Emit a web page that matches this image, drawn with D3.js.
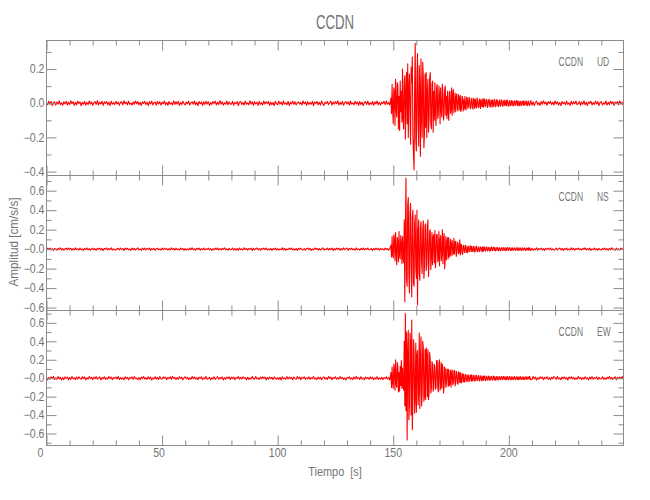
<!DOCTYPE html>
<html><head><meta charset="utf-8">
<script src="https://cdn.jsdelivr.net/npm/d3@7"></script>
<style>body{margin:0;background:#fff}text{font-family:"Liberation Sans",Arial,sans-serif;fill:#747474}</style>
</head><body>
<svg id="c" width="650" height="500"></svg>
<script>
// ---------------- data ----------------
const chartTitle = "CCDN";
const station = "CCDN";
const components = ["UD", "NS", "EW"];
const xLabel = "Tiempo  [s]";
const yLabel = "Amplitud [cm/s/s]";
const xDomain = [0, 249.6];
const xMajorTicks = [0, 50, 100, 150, 200];
const xMinorTicks = [10,20,30,40,60,70,80,90,110,120,130,140,160,170,180,190,210,220,230,240];

const udDomain = [-0.423, 0.367];
const nsDomain = [-0.63, 0.756];
const ewDomain = [-0.73, 0.734];
const udMajor = [0.2, 0.0, -0.2, -0.4];
const udMajorLabels = ["0.2", "0.0", "\u22120.2", "\u22120.4"];
const udMinor = [0.3, 0.1, -0.1, -0.3];
const nsMajor = [0.6, 0.4, 0.2, 0.0, -0.2, -0.4, -0.6];
const nsMajorLabels = ["0.6", "0.4", "0.2", "\u22120.0", "\u22120.2", "\u22120.4", "\u22120.6"];
const nsMinor = [0.7, 0.5, 0.3, 0.1, -0.1, -0.3, -0.5];
const ewMajor = [0.6, 0.4, 0.2, 0.0, -0.2, -0.4, -0.6];
const ewMajorLabels = ["0.6", "0.4", "0.2", "\u22120.0", "\u22120.2", "\u22120.4", "\u22120.6"];
const ewMinor = [0.7, 0.5, 0.3, 0.1, -0.1, -0.3, -0.5, -0.7];

// segments of the records: [start time s, sample step s]
const preSeg = [0, 0.5];      // pre-event noise, 0 - 148.5 s
const eventSeg = [149, 0.25]; // event, 149 - 208.75 s
const postSeg = [209, 0.5];   // coda noise, 209 - 249.5 s

// acceleration samples, in 0.001 cm/s/s
const udPre = [
4,-9,12,-6,10,-14,3,8,-11,7,-5,13,-8,2,-12,9,-4,11,-10,6,
-7,14,-3,9,-13,5,-9,12,-2,8,-15,6,-6,10,-11,4,-8,13,-5,7,
-12,3,9,-7,15,-10,6,-4,11,-13,8,-1,10,-9,5,-14,12,-6,3,-8,
11,-5,7,-12,4,9,-10,14,-3,6,-9,12,-7,1,-11,8,-6,13,-4,10,
-9,5,-13,8,-2,11,-8,6,-14,9,-5,12,-10,3,7,-12,10,-4,8,-11,
6,-3,13,-9,4,-12,10,-6,2,-10,14,-7,9,-5,11,-13,5,-8,12,-2,
-10,7,-4,12,-11,3,8,-6,13,-9,5,-14,10,-3,6,-12,9,-7,11,-5,
8,-13,4,-7,10,-2,12,-10,6,-8,15,-5,9,-11,3,-6,13,-9,7,-4,
-6,11,-12,5,-3,9,-14,7,10,-8,4,-11,12,-6,2,-9,14,-5,8,-12,
9,-4,6,-13,11,-7,3,-10,13,-5,8,-2,10,-12,6,-9,4,-14,11,-3,
-8,12,-5,7,-11,14,-6,2,-9,10,-13,5,-4,12,-7,9,-10,3,8,-6,
5,-10,13,-3,7,-12,9,-8,4,-6,11,-14,8,-2,10,-9,6,-11,13,-4,
-13,6,-2,10,-8,4,12,-11,7,-5,9,-3,14,-10,5,-7,11,-12,3,9,
-5,8,-11,13,-6,2,-9,11,-4,7,-12,10,-8,6,-14,4,9,-7,12,-10,
3,-7,10,-12,8,-4,13,-9,5,-11,6,-2,11,-8,14,-6,4,-10
];
const udEvent = [
30,-60,110,-40,-120,90,60,-130,140,-20,-80,120,100,-150,40,-160,130,-50,70,-110,
200,-90,-150,120,160,-210,60,180,-120,230,-200,90,170,-60,-240,210,120,270,-180,-300,
-390,100,350,-220,-280,160,290,-120,-250,220,80,-310,260,-90,-200,240,150,-260,-180,170,
-140,180,-200,60,140,-170,-90,150,180,-120,-150,110,130,-170,70,-100,120,-60,-130,90,
110,-90,-70,100,50,-120,90,-40,-80,110,60,-100,-60,80,100,-70,40,-90,70,-50,
-100,60,70,-60,-40,90,-70,50,80,-55,-30,60,-50,40,55,-35,-45,50,30,-40,
45,-50,-30,40,35,-45,20,-35,40,-25,-40,35,30,-30,-20,35,25,-28,-32,20,
30,-25,-35,28,20,-30,25,-18,-28,32,15,-22,-26,24,18,-30,22,-15,-20,27,
-24,18,26,-20,-15,22,20,-25,-12,19,23,-18,-22,15,17,-24,20,-12,-19,22,
16,-20,-14,21,18,-15,-20,12,19,-17,-11,20,14,-18,-16,13,18,-14,-10,17,
-15,18,12,-16,-18,11,15,-14,-12,17,10,-15,-16,12,14,-13,-9,16,12,-14,
14,-12,-15,10,11,-14,-12,13,9,-13,14,-8,-12,11,13,-10,-14,9,12,-11
];
const udPost = [
-13,15,
-11,8,-14,5,12,-9,3,-13,10,-6,14,-4,7,-12,9,-2,11,-8,6,-10,
13,-5,8,-11,4,-14,10,-3,6,-9,12,-7,2,-12,11,-6,9,-4,13,-8,
-3,10,-12,7,-6,14,-9,5,-13,8,-1,11,-10,4,-7,12,-5,9,-14,6,
8,-10,3,-6,13,-11,5,-8,12,-4,9,-13,7,-2,10,-9,14,-5,6,-12
];

const nsPre = [
-6,10,-3,12,-9,5,-13,7,2,-11,9,-4,13,-8,6,-12,3,10,-7,11,
-2,9,-12,6,-8,13,-5,4,-10,11,-7,3,-13,8,-4,12,-9,6,-11,2,
10,-7,4,-12,9,-3,11,-8,5,-14,7,-1,12,-10,6,-5,13,-9,3,-6,
-11,5,8,-9,12,-4,6,-13,10,-2,9,-7,3,-12,11,-6,8,-10,4,13,
-8,3,-11,10,-5,12,-9,7,-3,11,-13,6,-6,9,-12,4,10,-7,2,-10,
12,-6,9,-2,7,-11,5,-8,13,-4,8,-12,10,-6,3,-9,11,-3,6,-13,
7,-10,2,-8,11,-5,13,-7,4,-12,9,-3,10,-11,5,-6,12,-8,3,-4,
11,-9,6,-13,4,-7,10,-2,12,-10,5,-8,9,-4,13,-6,2,-11,8,-5,
-3,12,-8,5,-10,7,-12,11,-6,3,-9,13,-4,8,-11,6,-2,10,-13,9,
-7,4,11,-9,6,-12,8,-3,10,-5,12,-10,3,-7,9,-13,5,-4,11,-8,
6,-11,3,-5,13,-8,9,-12,2,-6,10,-3,12,-9,4,-10,7,-13,8,-2,
10,-4,-9,7,-12,5,11,-6,8,-13,3,-7,12,-2,9,-10,6,-11,4,13,
-9,2,-6,12,-10,8,-4,11,-13,5,-7,10,-3,9,-12,6,-8,13,-5,3,
11,-12,7,-3,9,-8,4,-11,13,-6,2,-10,8,-5,12,-9,6,-2,10,-7,
-4,9,-13,6,-8,11,-2,7,-12,10,-5,3,-9,12,-6,8,-11,4
];
const nsEvent = [
40,-80,130,-60,-90,150,100,-120,170,-40,-160,120,80,-130,180,-70,-100,140,60,-150,
130,-90,-140,300,-540,200,730,-300,-380,450,530,-250,-450,380,470,-200,-490,320,400,-350,
-380,260,350,-200,-300,400,-570,180,300,-250,-320,220,280,-150,-250,200,290,-300,-180,240,
260,-220,-150,210,300,-280,-120,180,200,-210,-90,170,-160,120,150,-140,190,-190,-80,150,
150,-130,-100,180,-170,90,140,-120,-60,200,-150,110,160,-200,-90,130,-110,70,120,-100,
120,-80,-50,100,-70,60,90,-60,-40,110,-50,70,80,-75,-45,70,60,-45,-30,95,
-60,50,45,-40,-55,35,40,-30,-35,40,30,-35,-38,25,30,-28,-22,35,28,-25,
30,-22,-25,28,22,-32,-18,25,30,-20,-27,18,24,-24,-15,22,20,-18,-26,26,
-20,17,22,-22,-14,20,23,-19,-12,18,15,-20,-17,18,22,-15,-13,20,17,-14,
16,-18,-11,15,19,-13,-16,14,12,-17,-10,15,13,-15,-12,16,14,-11,-15,13,
-14,12,16,-13,-10,15,12,-14,-15,11,13,-12,-9,14,12,-13,-11,10,15,-12,
12,-14,-10,13,11,-12,-13,9,14,-11,-8,12,10,-13,-12,11,9,-10,13,-11
];
const nsPost = [
13,-15,
9,-12,4,-7,13,-10,6,-3,11,-9,5,-13,8,-2,10,-6,12,-8,3,-11,
-5,10,-9,3,12,-7,8,-13,6,-4,11,-10,2,-8,13,-5,9,-12,7,-3,
12,-6,4,-11,9,-2,13,-9,5,-7,10,-12,3,-5,11,-8,6,-13,8,-4,
-10,7,-3,12,-8,5,-11,9,-6,13,-4,2,-12,10,-7,4,-9,11,-5,8
];

const ewPre = [
12,-18,7,-10,16,-5,19,-14,3,-12,17,-8,10,-19,6,-15,14,-3,11,-16,
8,-13,18,-6,4,-17,12,-9,15,-2,-11,16,-7,13,-18,5,-10,19,-4,9,
-15,11,-6,17,-12,3,14,-19,8,-7,16,-13,5,-9,18,-4,12,-16,7,-2,
13,-8,19,-14,6,-11,4,-17,15,-5,10,-18,9,-3,14,-12,17,-6,2,-15,
7,-16,11,-4,18,-10,5,-13,16,-8,12,-19,3,-7,15,-11,9,-14,17,-5,
-9,14,-2,12,-17,8,-6,15,-11,19,-4,10,-15,6,-12,16,-3,11,-18,4,
16,-7,9,-15,3,-12,18,-5,13,-10,7,-17,11,-2,14,-16,5,-8,19,-13,
-4,10,-18,6,-9,15,-13,2,17,-11,8,-6,14,-19,4,-10,12,-3,16,-14,
11,-5,13,-16,7,-2,18,-12,9,-8,15,-4,6,-17,10,-13,3,-9,19,-7,
-12,17,-8,4,-14,11,-6,16,-3,13,-18,7,-10,12,-5,9,-15,14,-1,-11,
6,-14,10,-19,15,-7,3,-12,17,-9,11,-4,8,-16,13,-2,-10,18,-6,12,
-17,9,-3,14,-11,5,-8,16,-13,7,-5,19,-10,2,-15,12,-7,10,-18,4,
15,-10,6,-13,18,-4,11,-16,8,-2,14,-12,5,-9,17,-6,10,-14,3,-19,
9,-3,16,-11,4,-15,12,-8,19,-5,7,-13,15,-10,2,-17,13,-4,8,-12,
14,-6,11,-18,5,-9,17,-14,3,-11,10,-16,7,-4,15,-12,8,-20
];
const ewEvent = [
60,-100,120,-50,-110,150,90,-130,200,-60,-100,170,120,-150,60,-140,130,-80,190,-110,
110,-90,-130,400,-300,700,-350,500,-670,300,520,-450,-300,490,380,-400,630,-560,-250,420,
300,-380,-200,380,-370,250,300,-290,-150,490,-330,200,450,-300,-180,400,330,-250,-200,310,
-230,330,250,-200,310,-230,-150,280,200,-160,-110,180,150,-140,-90,150,120,-120,-100,190,
190,-100,-150,160,200,-130,-90,170,-110,150,110,-160,-80,120,100,-100,-60,100,90,-90,
95,-80,-60,85,-95,70,90,-70,-50,80,85,-85,-40,75,60,-60,-65,70,55,-50,
60,-45,-50,50,40,-40,45,-38,-42,40,35,-30,-36,38,32,-35,-28,30,34,-34,
36,-28,-30,32,27,-33,-25,29,31,-27,-22,24,28,-30,-20,26,22,-29,-18,23,
-25,25,20,-22,-26,23,18,-19,-21,24,17,-23,-20,21,15,-17,-22,22,19,-20,
16,-21,-19,19,14,-18,-20,20,13,-16,-14,18,17,-16,-11,19,15,-13,-17,16,
-15,18,14,-19,-12,17,16,-14,-18,15,11,-16,-13,17,14,-12,-16,13,15,-15,
14,-16,-12,15,17,-13,-15,12,10,-16,14,-11,-14,13,16,-12,-10,15,12,-14
];
const ewPost = [
20,-16,
-14,18,-7,12,-19,5,-11,16,-3,13,-17,9,-6,15,-12,4,-18,10,-8,17,
6,-13,19,-9,3,-16,11,-5,14,-10,8,-19,12,-2,16,-7,10,-15,5,-12,
18,-4,9,-14,7,-11,15,-6,3,-18,13,-8,17,-12,6,-3,14,-16,10,-9,
-7,16,-12,4,-15,11,-5,19,-10,8,-13,2,15,-17,9,-6,12,-4,18,-11
];

// ---------------- drawing ----------------
const panels = [
  {comp: components[0], domain: udDomain, segs: [udPre, udEvent, udPost], major: udMajor, labels: udMajorLabels, minor: udMinor},
  {comp: components[1], domain: nsDomain, segs: [nsPre, nsEvent, nsPost], major: nsMajor, labels: nsMajorLabels, minor: nsMinor},
  {comp: components[2], domain: ewDomain, segs: [ewPre, ewEvent, ewPost], major: ewMajor, labels: ewMajorLabels, minor: ewMinor}
];
const segDefs = [preSeg, eventSeg, postSeg];

const svg = d3.select("#c");
svg.append("rect").attr("width", 650).attr("height", 500).attr("fill", "#fff");
const left = 46.5, right = 623.5, top0 = 40.5, panelH = 135;
const axisColor = "#8c8c8c";
const x = d3.scaleLinear().domain(xDomain).range([left, right]);

function styleAxis(g) {
  g.select(".domain").remove();
  g.selectAll("line").attr("stroke", axisColor).attr("stroke-width", 1);
  g.selectAll("text").remove();
}

panels.forEach((p, i) => {
  const y0 = top0 + i * panelH, y1 = y0 + panelH;
  const y = d3.scaleLinear().domain(p.domain).range([y1, y0]);
  const g = svg.append("g");

  const clipId = "clip" + i;
  svg.append("clipPath").attr("id", clipId)
    .append("rect").attr("x", left).attr("y", y0).attr("width", right - left).attr("height", panelH);

  const pts = [];
  p.segs.forEach((arr, s) => {
    const [t0, dt] = segDefs[s];
    arr.forEach((v, k) => pts.push([t0 + k * dt, v / 1000]));
  });
  g.append("path")
    .attr("clip-path", `url(#${clipId})`)
    .attr("d", d3.line().x(d => x(d[0])).y(d => y(d[1]))(pts))
    .attr("fill", "none").attr("stroke", "#ff0000").attr("stroke-width", 1.1)
    .attr("stroke-linejoin", "round");

  // frame
  g.append("rect").attr("x", left).attr("y", y0).attr("width", right - left).attr("height", panelH)
    .attr("fill", "none").attr("stroke", axisColor).attr("stroke-width", 1);

  // y ticks (inward) on left and right
  g.append("g").attr("transform", `translate(${left},0)`)
    .call(d3.axisLeft(y).tickValues(p.major).tickSizeInner(-10).tickSizeOuter(0)).call(styleAxis);
  g.append("g").attr("transform", `translate(${left},0)`)
    .call(d3.axisLeft(y).tickValues(p.minor).tickSizeInner(-5).tickSizeOuter(0)).call(styleAxis);
  g.append("g").attr("transform", `translate(${right},0)`)
    .call(d3.axisRight(y).tickValues(p.major).tickSizeInner(-10).tickSizeOuter(0)).call(styleAxis);
  g.append("g").attr("transform", `translate(${right},0)`)
    .call(d3.axisRight(y).tickValues(p.minor).tickSizeInner(-5).tickSizeOuter(0)).call(styleAxis);
  // x ticks (inward) on top and bottom
  g.append("g").attr("transform", `translate(0,${y0})`)
    .call(d3.axisTop(x).tickValues(xMajorTicks).tickSizeInner(-10).tickSizeOuter(0)).call(styleAxis);
  g.append("g").attr("transform", `translate(0,${y0})`)
    .call(d3.axisTop(x).tickValues(xMinorTicks).tickSizeInner(-5).tickSizeOuter(0)).call(styleAxis);
  g.append("g").attr("transform", `translate(0,${y1})`)
    .call(d3.axisBottom(x).tickValues(xMajorTicks).tickSizeInner(-10).tickSizeOuter(0)).call(styleAxis);
  g.append("g").attr("transform", `translate(0,${y1})`)
    .call(d3.axisBottom(x).tickValues(xMinorTicks).tickSizeInner(-5).tickSizeOuter(0)).call(styleAxis);

  // y tick labels
  p.major.forEach((v, k) => {
    g.append("text").attr("transform", `translate(44.5,${y(v)}) scale(0.88,1)`)
      .attr("text-anchor", "end").attr("dy", "0.35em").attr("font-size", 12).text(p.labels[k]);
  });

  // panel label
  g.append("text").attr("transform", `translate(583,${y0 + 25.5}) scale(0.65,1)`)
    .attr("text-anchor", "end").attr("font-size", 13).text(station);
  g.append("text").attr("transform", `translate(597,${y0 + 25.5}) scale(0.65,1)`)
    .attr("text-anchor", "start").attr("font-size", 13).text(p.comp);

  if (i === panels.length - 1) {
    xMajorTicks.forEach((v, k) => {
      const dx = k === 0 ? -6 : (k === 1 ? -3 : 0);
      svg.append("text").attr("transform", `translate(${x(v) + dx},457) scale(0.88,1)`)
        .attr("text-anchor", "middle").attr("font-size", 12).text(String(v));
    });
  }
});

svg.append("text").attr("transform", "translate(335,28.5) scale(0.63,1)")
  .attr("text-anchor", "middle").attr("font-size", 21).text(chartTitle);
svg.append("text").attr("transform", "translate(335,476) scale(0.84,1)")
  .attr("text-anchor", "middle").attr("font-size", 13).style("white-space", "pre").text(xLabel);
svg.append("text").attr("transform", "translate(17.5,242) rotate(-90) scale(0.9,1)")
  .attr("text-anchor", "middle").attr("font-size", 13).text(yLabel);
</script>
</body></html>
